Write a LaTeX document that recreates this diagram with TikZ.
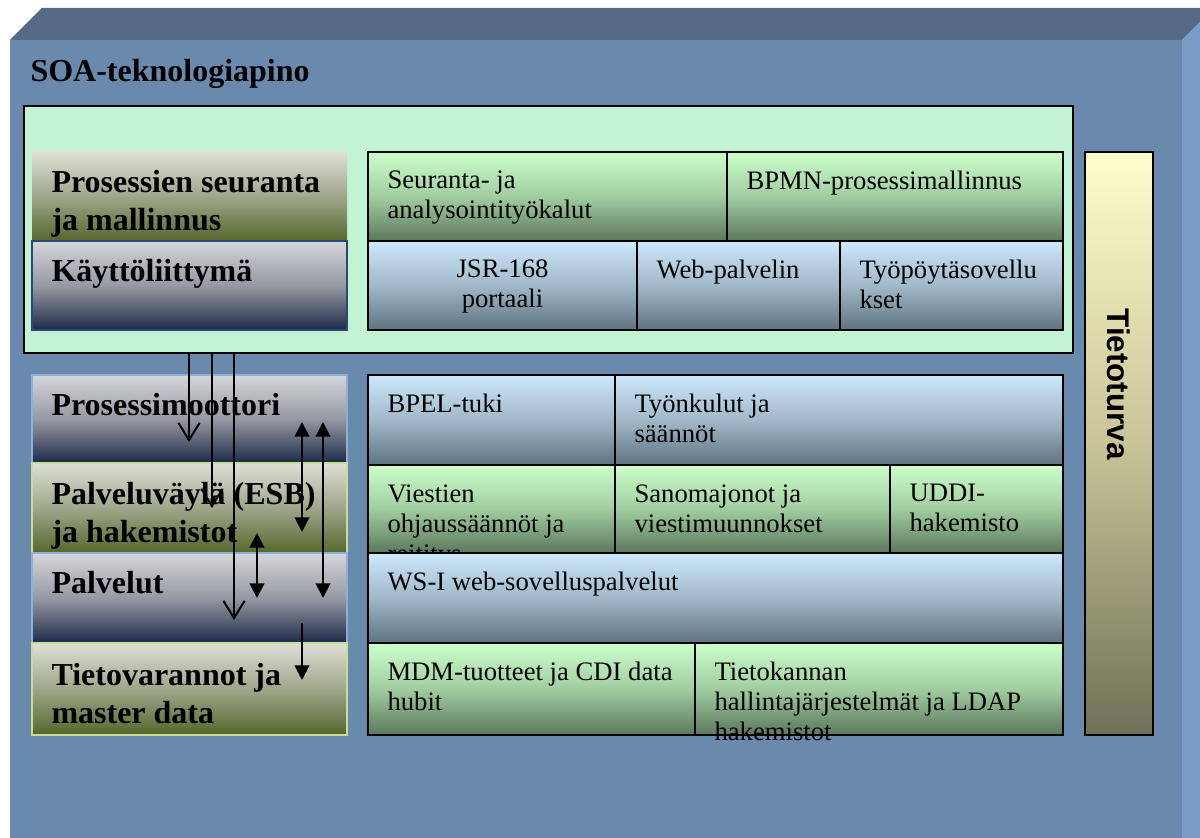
\documentclass[tikz,border=0pt]{standalone}
\usepackage{fontspec}
\setmainfont{Liberation Serif}
\newfontfamily\secfont{Liberation Sans}
\usetikzlibrary{fit,arrows.meta}

\definecolor{frontblue}{RGB}{105,137,173}
\definecolor{topblue}{RGB}{84,106,134}
\definecolor{sideblue}{RGB}{122,157,200}
\definecolor{mint}{RGB}{194,243,210}
\definecolor{cellgreen}{RGB}{204,255,204}
\definecolor{cellgreenmid}{RGB}{160,205,160}
\definecolor{cellgreendk}{RGB}{92,120,92}
\definecolor{cellblue}{RGB}{205,232,252}
\definecolor{cellbluemid}{RGB}{160,184,200}
\definecolor{cellbluedk}{RGB}{95,115,130}
\definecolor{labgrey}{RGB}{212,214,218}
\definecolor{labgreymid}{RGB}{150,153,162}
\definecolor{labnavy}{RGB}{28,42,72}
\definecolor{labpale}{RGB}{222,224,214}
\definecolor{labpalemid}{RGB}{158,166,138}
\definecolor{labolive}{RGB}{84,104,44}
\definecolor{navyedge}{RGB}{142,176,216}
\definecolor{oliveedge}{RGB}{200,222,152}
\definecolor{secyellow}{RGB}{255,253,206}
\definecolor{secyellowmid}{RGB}{200,196,152}
\definecolor{secolive}{RGB}{112,112,86}

\tikzset{every picture/.style={line width=0.75pt}}
\tikzset{
  greencell/.style={draw=black, line width=1.5pt, inner sep=0pt,
    top color=cellgreen, bottom color=cellgreendk, middle color=cellgreenmid},
  bluecell/.style={draw=black, line width=1.5pt, inner sep=0pt,
    top color=cellblue, bottom color=cellbluedk, middle color=cellbluemid},
  navylab/.style={draw=navyedge, line width=1.5pt, inner sep=0pt,
    top color=labgrey, bottom color=labnavy, middle color=labgreymid},
  olivelab/.style={draw=oliveedge, line width=1.5pt, inner sep=0pt,
    top color=labpale, bottom color=labolive, middle color=labpalemid},
  celltext/.style={anchor=north west, inner sep=0pt, align=left,
    font=\fontsize{20}{22.5}\selectfont},
  labtext/.style={anchor=north west, inner sep=0pt, align=left,
    font=\fontsize{24}{28}\selectfont\bfseries},
  openarr/.style={line width=1.5pt, -{Straight Barb[length=13pt,width=16pt,line width=1.5pt]}},
  dblarr/.style={line width=1.5pt, {Triangle[length=11pt,width=11pt]}-{Triangle[length=11pt,width=11pt]}},
  downarr/.style={line width=1.5pt, -{Triangle[length=11pt,width=11pt]}}
}

\begin{document}
\begin{tikzpicture}[x=0.75pt,y=0.75pt,yscale=-1,xscale=1]
    \useasboundingbox (0,0) rectangle (1200,838);

    %Cube: top face
    \fill [topblue] (10,40) -- (42,8) -- (1200,8) -- (1200,22) -- (1182,40) -- cycle ;
    %Cube: side face
    \fill [sideblue] (1182,40) -- (1200,22) -- (1200,838) -- (1182,838) -- cycle ;
    %Cube: front face
    \fill [frontblue] (10,40) rectangle (1182,838) ;
    \node [anchor=base west, inner sep=0pt, font=\fontsize{24}{28}\selectfont\bfseries] (title) at (30,82) {SOA-teknologiapino};

    %Upper block
    \node [draw=black, line width=1.5pt, fill=mint, inner sep=0pt, fit={(24,106) (1073,353)}] (upper) {};

    %Left labels, upper block
    \node [olivelab, draw=none, fit={(32,152) (347,241)}] (seurlab) {};
    \node [labtext] (seurlab-t) at ([shift={(20,19)}]seurlab.north west) {Prosessien seuranta\\ja mallinnus};
    \node [navylab, draw={rgb,255:red,40;green,72;blue,120}, fit={(32,241) (347,330)}] (kaytlab) {};
    \node [labtext] (kaytlab-t) at ([shift={(20,19)}]kaytlab.north west) {Käyttöliittymä};

    %Upper table, row 1
    \node [greencell, fit={(368,152) (727,241)}] (seur) {};
    \node [celltext] (seur-t) at ([shift={(20,19)}]seur.north west) {Seuranta- ja\\analysointityökalut};
    \node [greencell, fit={(727,152) (1063,241)}] (bpmn) {};
    \node [celltext] (bpmn-t) at ([shift={(20,19)}]bpmn.north west) {BPMN-prosessimallinnus};
    %Upper table, row 2
    \node [bluecell, fit={(368,241) (637,330)}] (jsr) {};
    \node [celltext, anchor=north, align=center] (jsr-t) at ([shift={(0,19)}]jsr.north) {JSR-168\\portaali};
    \node [bluecell, fit={(637,241) (840,330)}] (web) {};
    \node [celltext] (web-t) at ([shift={(20,19)}]web.north west) {Web-palvelin};
    \node [bluecell, fit={(840,241) (1063,330)}] (tyop) {};
    \node [celltext] (tyop-t) at ([shift={(20,19)}]tyop.north west) {Työpöytäsovellu\\kset};

    %Left labels, lower part
    \node [navylab, fit={(32,375) (347,463)}] (moot) {};
    \node [labtext] (moot-t) at ([shift={(20,19)}]moot.north west) {Prosessimoottori};
    \node [olivelab, fit={(32,463) (347,553)}] (esb) {};
    \node [labtext] (esb-t) at ([shift={(20,20)}]esb.north west) {Palveluväylä (ESB)\\ja hakemistot};
    \node [navylab, fit={(32,553) (347,643)}] (palv) {};
    \node [labtext] (palv-t) at ([shift={(20,19)}]palv.north west) {Palvelut};
    \node [olivelab, fit={(32,643) (347,735)}] (tieto) {};
    \node [labtext] (tieto-t) at ([shift={(20,21)}]tieto.north west) {Tietovarannot ja\\master data};

    %Lower table, row 1
    \node [bluecell, fit={(368,375) (615,465)}] (bpel) {};
    \node [celltext] (bpel-t) at ([shift={(20,19)}]bpel.north west) {BPEL-tuki};
    \node [bluecell, fit={(615,375) (1063,465)}] (tyon) {};
    \node [celltext] (tyon-t) at ([shift={(20,19)}]tyon.north west) {Työnkulut ja\\säännöt};
    %Lower table, row 2
    \node [greencell, fit={(368,465) (615,553)}] (vies) {};
    \node [celltext] (vies-t) at ([shift={(20,20)}]vies.north west) {Viestien\\ohjaussäännöt ja\\reititys};
    \node [greencell, fit={(615,465) (890,553)}] (sano) {};
    \node [celltext] (sano-t) at ([shift={(20,20)}]sano.north west) {Sanomajonot ja\\viestimuunnokset};
    \node [greencell, fit={(890,465) (1063,553)}] (uddi) {};
    \node [celltext] (uddi-t) at ([shift={(20,20)}]uddi.north west) {UDDI-\\hakemisto};
    %Lower table, row 3
    \node [bluecell, fit={(368,553) (1063,643)}] (wsi) {};
    \node [celltext] (wsi-t) at ([shift={(20,19)}]wsi.north west) {WS-I web-sovelluspalvelut};
    %Lower table, row 4
    \node [greencell, fit={(368,643) (695,735)}] (mdm) {};
    \node [celltext] (mdm-t) at ([shift={(20,19)}]mdm.north west) {MDM-tuotteet ja CDI data\\hubit};
    \node [greencell, fit={(695,643) (1063,735)}] (tkan) {};
    \node [celltext] (tkan-t) at ([shift={(20,19)}]tkan.north west) {Tietokannan\\hallintajärjestelmät ja LDAP\\hakemistot};

    %Security bar
    \node [draw=black, line width=1.5pt, inner sep=0pt, top color=secyellow, bottom color=secolive, middle color=secyellowmid, fit={(1085,152) (1153,735)}] (tt) {};
    \node [rotate=-90, inner sep=0pt, font=\secfont\fontsize{23.5}{28}\selectfont\bfseries] (tt-t) at ([shift={(0,233)}]tt.north) {Tietoturva};

    %Arrow ends
    \coordinate (a1e) at (189,442);
    \coordinate (a2e) at (212,508);
    \coordinate (a3e) at (234,620);
    \coordinate (a1s) at (a1e |- upper.south);
    \coordinate (a2s) at (a2e |- upper.south);
    \coordinate (a3s) at (a3e |- upper.south);
    \coordinate (b1s) at (302,422);
    \coordinate (b1e) at (302,532);
    \coordinate (b2s) at (323,422);
    \coordinate (b2e) at (323,598);
    \coordinate (b3s) at (257,533);
    \coordinate (b3e) at (257,598);
    \coordinate (c1s) at (302,623);
    \coordinate (c1e) at (302,680);

    %Arrows
    \draw [openarr] (a1s) -- (a1e) ;
    \draw [openarr] (a2s) -- (a2e) ;
    \draw [openarr] (a3s) -- (a3e) ;
    \draw [dblarr] (b1s) -- (b1e) ;
    \draw [dblarr] (b2s) -- (b2e) ;
    \draw [dblarr] (b3s) -- (b3e) ;
    \draw [downarr] (c1s) -- (c1e) ;

\end{tikzpicture}
\end{document}
